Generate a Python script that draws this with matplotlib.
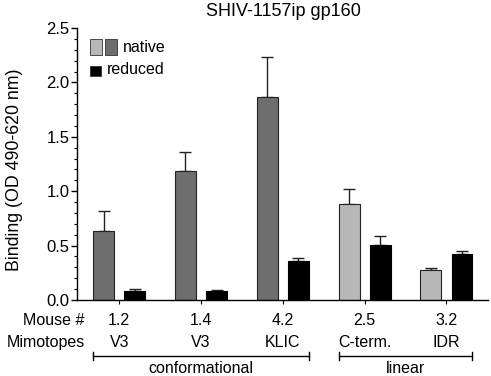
import matplotlib
matplotlib.use("Agg")
import matplotlib.pyplot as plt
from matplotlib.ticker import MultipleLocator, FormatStrFormatter
from matplotlib.patches import Rectangle
import numpy as np

plt.rcParams['font.family'] = ['Liberation Sans', 'DejaVu Sans']

title = "SHIV-1157ip gp160"
mouse_ids = ["1.2", "1.4", "4.2", "2.5", "3.2"]
mimotopes = ["V3", "V3", "KLIC", "C-term.", "IDR"]
epitope_type = ["conformational", "conformational", "conformational", "linear", "linear"]
native_mean = [0.63, 1.19, 1.87, 0.88, 0.28]
native_err = [0.19, 0.17, 0.36, 0.14, 0.015]
reduced_mean = [0.086, 0.08, 0.36, 0.51, 0.42]
reduced_err = [0.012, 0.009, 0.028, 0.077, 0.032]

type_colors = {"conformational": "#6e6e6e", "linear": "#b8b8b8"}
reduced_color = "#000000"

FS = 11.5

fig = plt.figure(figsize=(4.91, 3.76), dpi=100)
ax = fig.add_axes([77/491, 1-300/376, (488-77)/491, 272/376])

x = np.arange(len(mouse_ids))
w = 0.255
off = 0.19
ncol = [type_colors[t] for t in epitope_type]
ax.bar(x - off, native_mean, w, color=ncol, edgecolor="#222222", linewidth=0.8, zorder=2)
ax.bar(x + off, reduced_mean, w, color=reduced_color, edgecolor="#000000", linewidth=0.8, zorder=2)
ax.errorbar(x - off, native_mean, yerr=[np.zeros(len(x)), native_err], fmt='none',
            ecolor="#222222", elinewidth=1.0, capsize=4.2, capthick=1.0, zorder=1)
ax.errorbar(x + off, reduced_mean, yerr=[np.zeros(len(x)), reduced_err], fmt='none',
            ecolor="#222222", elinewidth=1.0, capsize=4.2, capthick=1.0, zorder=1)

ax.set_xlim(-0.516, 4.508)
ax.set_ylim(0, 2.5)
ax.spines['top'].set_visible(False)
ax.spines['right'].set_visible(False)
ax.spines['left'].set_linewidth(1.0)
ax.spines['bottom'].set_linewidth(1.0)
ax.yaxis.set_major_locator(MultipleLocator(0.5))
ax.yaxis.set_minor_locator(MultipleLocator(0.1))
ax.yaxis.set_major_formatter(FormatStrFormatter('%.1f'))
ax.tick_params(axis='y', which='major', length=4.5, width=1.0, labelsize=12, pad=1.0)
ax.tick_params(axis='y', which='minor', length=2.5, width=0.8)
ax.set_xticks(x)
ax.set_xticklabels([])
ax.tick_params(axis='x', which='major', length=3, width=0.8)
ax.set_ylabel("Binding (OD 490-620 nm)", fontsize=12.8, va='center')
ax.yaxis.set_label_coords(-0.153, 0.48)
fig.text(283/491, 1-12/376, title, ha='center', va='center', fontsize=13)

tr = ax.get_xaxis_transform()
for xi, m, mm in zip(x, mouse_ids, mimotopes):
    ax.text(xi, -0.077, m, transform=tr, ha='center', va='center', fontsize=FS, clip_on=False)
    ax.text(xi, -0.158, mm, transform=tr, ha='center', va='center', fontsize=FS, clip_on=False)
ax.text(-0.42, -0.077, "Mouse #", transform=tr, ha='right', va='center', fontsize=FS)
ax.text(-0.42, -0.158, "Mimotopes", transform=tr, ha='right', va='center', fontsize=FS)

# brackets
for t in ["conformational", "linear"]:
    idx = [i for i, e in enumerate(epitope_type) if e == t]
    x0 = x[idx[0]] - off - w/2
    x1 = x[idx[-1]] + off + w/2
    yb = -0.205
    ax.plot([x0, x1], [yb, yb], transform=tr, color='black', lw=1.0, clip_on=False)
    for xx in (x0, x1):
        ax.plot([xx, xx], [yb - 0.015, yb + 0.015], transform=tr, color='black', lw=1.0, clip_on=False)
    ax.text((x0 + x1)/2, -0.252, t, transform=tr, ha='center', va='center', fontsize=FS)

# legend
def fpx(xp, yp):
    return xp/491, 1 - yp/376
for (x0, y0, x1, y1, c) in [(90, 39, 102, 55, type_colors["linear"]),
                            (105, 39, 117, 55, type_colors["conformational"]),
                            (90, 66, 101, 76, reduced_color)]:
    fx, fy = fpx(x0, y1)
    fig.patches.append(Rectangle((fx, fy), (x1-x0)/491, (y1-y0)/376, transform=fig.transFigure,
                                 facecolor=c, edgecolor="#333333", linewidth=0.6))
fig.text(*fpx(123, 47), "native", ha='left', va='center', fontsize=FS)
fig.text(*fpx(107, 69), "reduced", ha='left', va='center', fontsize=FS)

fig.savefig("out.png", dpi=100)
